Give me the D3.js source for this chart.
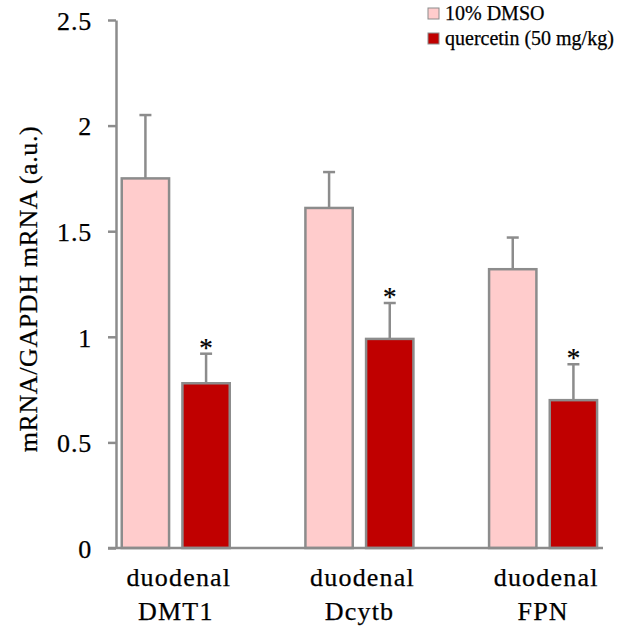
<!DOCTYPE html>
<html>
<head>
<meta charset="utf-8">
<script src="https://cdn.jsdelivr.net/npm/d3@7"></script>
<style>
  html, body { margin: 0; padding: 0; background: #fff; }
  svg { display: block; }
  text { font-family: "Liberation Serif", "Times New Roman", serif; fill: #000; stroke: #000; stroke-width: 0.25px; }
</style>
</head>
<body>
<svg id="chart" width="620" height="630"></svg>
<script>
// ---- data ----
const categories = ["DMT1", "Dcytb", "FPN"];
const categoryPrefix = ["duodenal", "duodenal", "duodenal"];
const seriesNames = ["10% DMSO", "quercetin (50 mg/kg)"];
const dmsoValues = [1.75, 1.61, 1.32];
const dmsoErrors = [0.30, 0.17, 0.15];
const quercetinValues = [0.78, 0.99, 0.70];
const quercetinErrors = [0.14, 0.17, 0.17];
const significant = [true, true, true];
const yTicks = [0, 0.5, 1, 1.5, 2, 2.5];
const yTickLabels = ["0", "0.5", "1", "1.5", "2", "2.5"];
const yLabel = "mRNA/GAPDH mRNA (a.u.)";

// ---- layout ----
const colors = ["#FFCCCC", "#C00000"];
const gray = "#8c8c8c";
const axisLeftX = 116, axisRightX = 603;
const svg = d3.select("#chart");

const y = d3.scaleLinear().domain([0, 2.5]).range([548, 20]);
const x0 = d3.scaleBand().domain(categories).range([84, 635]).padding(0);
const x1 = d3.scaleBand().domain(seriesNames)
  .range([37.75, 145.75]).paddingInner(0.22).paddingOuter(0);

const rows = categories.map((c, i) => ({
  cat: c,
  prefix: categoryPrefix[i],
  sig: significant[i],
  bars: [
    { s: seriesNames[0], v: dmsoValues[i], e: dmsoErrors[i], color: colors[0], star: false },
    { s: seriesNames[1], v: quercetinValues[i], e: quercetinErrors[i], color: colors[1], star: significant[i] }
  ]
}));

// y axis
const yAxis = d3.axisLeft(y).tickValues(yTicks)
  .tickFormat((d, i) => yTickLabels[i]).tickSize(8).tickSizeOuter(0).tickPadding(16);
const gy = svg.append("g").attr("transform", `translate(${axisLeftX},0)`).call(yAxis);
gy.select(".domain").attr("stroke", gray).attr("stroke-width", 2.5);
gy.selectAll(".tick line").attr("stroke", gray).attr("stroke-width", 2.5);
gy.selectAll(".tick text").attr("font-size", 26).style("letter-spacing", "0.8px")
  .attr("dy", "0.36em");

// bars
const groups = svg.append("g").selectAll("g.cat").data(rows).join("g")
  .attr("class", "cat")
  .attr("transform", d => `translate(${x0(d.cat)},0)`);

groups.selectAll("line.err").data(d => d.bars).join("line")
  .attr("class", "err")
  .attr("x1", d => x1(d.s) + x1.bandwidth() / 2)
  .attr("x2", d => x1(d.s) + x1.bandwidth() / 2)
  .attr("y1", d => y(d.v))
  .attr("y2", d => y(d.v + d.e))
  .attr("stroke", gray).attr("stroke-width", 2.5);
groups.selectAll("line.cap").data(d => d.bars).join("line")
  .attr("class", "cap")
  .attr("x1", d => x1(d.s) + x1.bandwidth() / 2 - 6)
  .attr("x2", d => x1(d.s) + x1.bandwidth() / 2 + 6)
  .attr("y1", d => y(d.v + d.e))
  .attr("y2", d => y(d.v + d.e))
  .attr("stroke", gray).attr("stroke-width", 2.5);

groups.selectAll("rect").data(d => d.bars).join("rect")
  .attr("x", d => x1(d.s))
  .attr("width", x1.bandwidth())
  .attr("y", d => y(d.v))
  .attr("height", d => y(0) - y(d.v))
  .attr("fill", d => d.color)
  .attr("stroke", gray).attr("stroke-width", 2.5);

groups.selectAll("text.star").data(d => d.bars.filter(b => b.star)).join("text")
  .attr("class", "star")
  .attr("x", d => x1(d.s) + x1.bandwidth() / 2)
  .attr("y", d => y(d.v + d.e) + 3)
  .attr("text-anchor", "middle")
  .attr("font-size", 27)
  .text("*");

// x axis line
svg.append("line")
  .attr("x1", axisLeftX - 8).attr("x2", axisRightX)
  .attr("y1", y(0)).attr("y2", y(0))
  .attr("stroke", gray).attr("stroke-width", 2.5);

// category labels
const catLabels = svg.append("g").selectAll("text.cl").data(rows).join("text")
  .attr("class", "cl")
  .attr("text-anchor", "middle")
  .attr("font-size", 26)
  .style("letter-spacing", "1.2px")
  .attr("transform", d => `translate(${x0(d.cat) + x0.bandwidth() / 2},0)`);
catLabels.append("tspan").attr("x", 3).attr("y", 586).text(d => d.prefix);
catLabels.append("tspan").attr("x", 0).attr("y", 620).text(d => d.cat);

// y label
svg.append("text")
  .attr("transform", `translate(37,289) rotate(-90)`)
  .attr("text-anchor", "middle")
  .attr("font-size", 26)
  .style("letter-spacing", "0.6px")
  .text(yLabel);

// legend
const legend = svg.append("g").selectAll("g").data(seriesNames).join("g")
  .attr("transform", (d, i) => `translate(428,${8 + i * 25})`);
legend.append("rect").attr("width", 11).attr("height", 11)
  .attr("fill", (d, i) => colors[i]).attr("stroke", gray).attr("stroke-width", 1);
legend.append("text").attr("x", 17).attr("y", 12).attr("font-size", 20).text(d => d);
</script>
</body>
</html>
